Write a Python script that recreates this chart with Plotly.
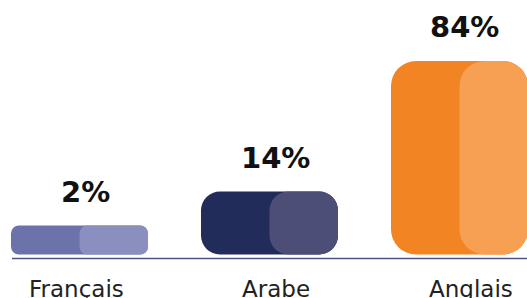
import plotly.graph_objects as go

# ---- data ----
categories = ["Français", "Arabe", "Anglais"]
values = [2, 14, 84]                 # percentages shown as labels
bar_heights = [29, 63, 193.5]        # visual bar lengths as drawn in the picture
value_labels = ["%d%%" % v for v in values]

# ---- style ----
dark_colors = ["#6b73aa", "#222c5b", "#f28423"]
light_colors = ["#8a8fbf", "#4d4e77", "#f79f52"]
corner_radii = [8, 19, 25]
cat_label_shift = [-3, 7, 12]
val_label_shift = [6, 6, 5]
bar_width = 0.7211
font_family = "DejaVu Sans"

fig = go.Figure()

def add_rounded(idx, offset, width, color):
    fig.add_trace(go.Bar(
        x=[categories[idx]], y=[bar_heights[idx]], base=[0],
        width=[width], offset=[offset],
        marker=dict(color=color, line=dict(width=0), cornerradius=corner_radii[idx]),
        showlegend=False, hoverinfo="skip"))

for i in range(len(categories)):
    add_rounded(i, -bar_width / 2, bar_width, dark_colors[i])
    add_rounded(i, 0, bar_width / 2, light_colors[i])

for i, c in enumerate(categories):
    fig.add_annotation(x=c, y=bar_heights[i], text="<b>%s</b>" % value_labels[i],
                       showarrow=False, yanchor="bottom", yshift=15,
                       xshift=val_label_shift[i],
                       font=dict(family=font_family, size=29, color="#111111"))
    fig.add_annotation(x=c, y=-19.5, text=c, showarrow=False, yanchor="top",
                       xshift=cat_label_shift[i],
                       font=dict(family=font_family, size=23, color="#222222"))

fig.add_shape(type="line", xref="paper", yref="y", x0=12 / 527, x1=1, y0=-4, y1=-4,
              line=dict(color="#4b5482", width=1.3))

fig.update_layout(
    width=527, height=298,
    margin=dict(l=0, r=0, t=0, b=0),
    paper_bgcolor="white", plot_bgcolor="white",
    barmode="overlay",
    xaxis=dict(range=[-0.4184, 2.3553], visible=False, fixedrange=True),
    yaxis=dict(range=[-43.5, 254.5], visible=False, fixedrange=True),
)

fig.write_html("out.html", config={"displayModeBar": False},
               post_script="document.body.style.margin='0';document.body.style.overflow='hidden';")
